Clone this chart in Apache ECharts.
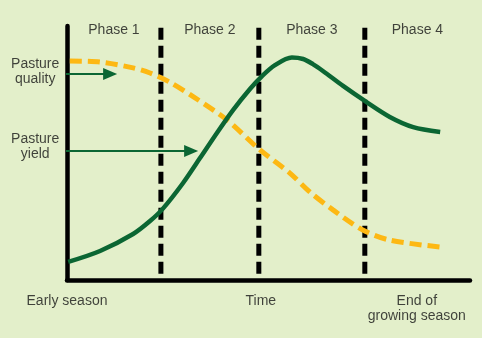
<!DOCTYPE html>
<html><head><meta charset="utf-8">
<script src="https://cdn.jsdelivr.net/npm/echarts@6/dist/echarts.min.js"></script>
<style>html,body{margin:0;padding:0;background:#e3efca}#c{width:482px;height:338px}</style>
</head><body><div id="c"></div>
<script>
// Data (time in % of season, value in relative units)
const phaseNames = ['Phase 1', 'Phase 2', 'Phase 3', 'Phase 4'];
const phaseBoundaries = [23.3, 47.6, 73.9];
const yieldTime  = [0.3, 8.2, 16.4, 20.6, 23.8, 28.8, 33.0, 37.2, 41.2, 45.4, 48.4, 51.6, 55.8, 58.6, 61.0, 63.5, 68.5, 73.9, 80.1, 85.9, 92.6];
const yieldValue = [7.1, 11.4, 18.1, 23.2, 28.1, 38.2, 48.0, 57.9, 66.9, 75.2, 80.3, 84.6, 87.6, 87.0, 85.0, 82.3, 76.4, 70.5, 64.2, 60.2, 58.3];
const qualityTime  = [0.7, 8.2, 16.4, 20.6, 25.6, 31.3, 39.7, 47.9, 55.3, 60.3, 66.0, 73.4, 80.1, 92.6];
const qualityValue = [86.2, 85.8, 83.5, 81.5, 77.8, 72.2, 63.0, 51.2, 42.1, 34.6, 27.6, 19.7, 15.7, 13.0];
const curveLabels = ['Pasture\nquality', 'Pasture\nyield'];
const curveLabelPos = [[-7.9, 81.9], [-7.9, 52.4]];
const arrows = [[[-3.0, 81.1], [10.7, 81.1]], [[-3.0, 50.8], [30.8, 50.8]]];
const axisLabels = ['Early season', 'Time', 'End of\ngrowing season'];
const axisLabelPos = [[0, -8.3], [48.1, -8.3], [86.8, -11.2]];

const green = '#0b6633', yellow = '#fdb813', textColor = '#151515';
const font = '"Liberation Sans", Arial, sans-serif';

const series = [];
phaseBoundaries.forEach(b => series.push({
  type: 'line', data: [[b, 2.5], [b, 100]], symbol: 'none', clip: false, silent: true,
  lineStyle: { color: '#000', width: 5, type: [12, 6] }, z: 2
}));
series.push({
  type: 'line', data: qualityTime.map((t, i) => [t, qualityValue[i]]), smooth: 0.3, symbol: 'none', clip: false,
  lineStyle: { color: yellow, width: 5, type: [12, 6] }, z: 3
});
series.push({
  type: 'line', data: yieldTime.map((t, i) => [t, yieldValue[i]]), smooth: 0.3, symbol: 'none', clip: false,
  lineStyle: { color: green, width: 4.5 }, z: 4
});
arrows.forEach(a => series.push({
  type: 'line', clip: false, silent: true, showSymbol: true, z: 5,
  data: [{ value: a[0], symbol: 'none' }, { value: a[1], symbol: 'triangle', symbolRotate: -90, symbolSize: [12, 14] }],
  lineStyle: { color: green, width: 2 }, itemStyle: { color: green }
}));
const textItems = [];
const edges = [0].concat(phaseBoundaries, [100]);
phaseNames.forEach((n, i) => textItems.push({ name: n, value: [(edges[i] + edges[i + 1]) / 2, 98.4] }));
curveLabels.forEach((n, i) => textItems.push({ name: n, value: curveLabelPos[i] }));
axisLabels.forEach((n, i) => textItems.push({ name: n, value: axisLabelPos[i] }));
series.push({
  type: 'scatter', data: textItems, symbolSize: 1, clip: false, silent: true, z: 6,
  itemStyle: { color: 'transparent' },
  label: { show: true, position: 'inside', formatter: '{b}', color: textColor, fontSize: 14, fontFamily: font, lineHeight: 15, align: 'center', verticalAlign: 'middle' }
});

const chart = echarts.init(document.getElementById('c'));
chart.setOption({
  backgroundColor: '#e3efca',
  animation: false,
  grid: { left: 67, right: 12, top: 26, bottom: 58 },
  xAxis: { type: 'value', min: 0, max: 100, axisLine: { show: true, lineStyle: { color: '#000', width: 4.5 } }, axisTick: { show: false }, axisLabel: { show: false }, splitLine: { show: false } },
  yAxis: { type: 'value', min: 0, max: 100, axisLine: { show: true, lineStyle: { color: '#000', width: 4.5 } }, axisTick: { show: false }, axisLabel: { show: false }, splitLine: { show: false } },
  series: series
});
</script></body></html>
